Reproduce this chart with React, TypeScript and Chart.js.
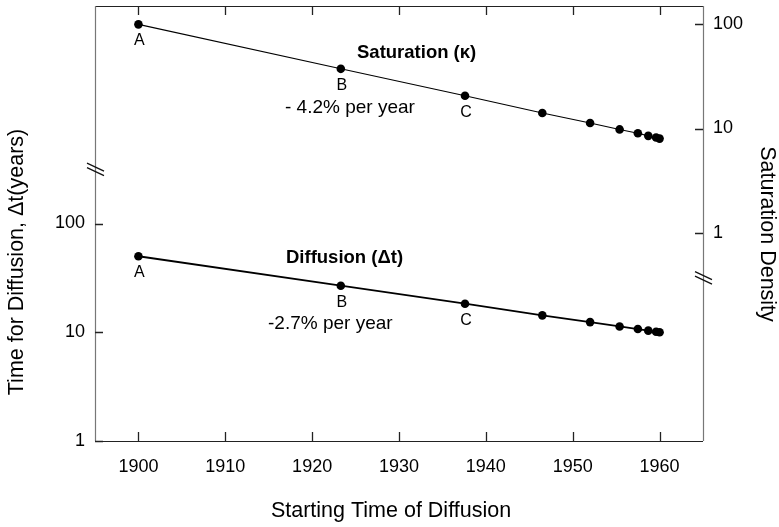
import React, { useEffect, useRef } from "react";
import { Chart, registerables } from "chart.js";
Chart.register(...registerables);

const years = [1900, 1923.3, 1937.6, 1946.5, 1952.0, 1955.4, 1957.5, 1958.7, 1959.6, 1960.0];
const saturation = [100, 37.4, 20.6, 14.1, 11.3, 9.8, 9.0, 8.5, 8.2, 8.0];
const diffusion = [50, 26.8, 18.3, 14.3, 12.4, 11.3, 10.7, 10.35, 10.1, 10.0];
const pointLabels = ["A", "B", "C"];
const xTicks = [1900, 1910, 1920, 1930, 1940, 1950, 1960];
const leftTicks = [1, 10, 100];
const rightTicks = [1, 10, 100];

const F = '"Liberation Sans", Arial, Helvetica, sans-serif';

const overlay = {
  id: "overlay",
  afterDraw(chart: any) {
    const { ctx, chartArea: a, scales } = chart;
    const x = scales.x, yL = scales.yL, yR = scales.yR;
    ctx.save();
    // frame
    ctx.lineWidth = 1.2;
    ctx.strokeStyle = "#222";
    ctx.beginPath();
    ctx.moveTo(a.left, a.top + 0.5); ctx.lineTo(a.right, a.top + 0.5);
    ctx.moveTo(a.left, a.bottom + 0.5); ctx.lineTo(a.right, a.bottom + 0.5);
    ctx.stroke();
    ctx.strokeStyle = "#777";
    ctx.beginPath();
    ctx.moveTo(a.left + 0.5, a.top); ctx.lineTo(a.left + 0.5, a.bottom);
    ctx.moveTo(a.right + 0.5, a.top); ctx.lineTo(a.right + 0.5, a.bottom);
    ctx.stroke();
    // ticks
    ctx.lineWidth = 1.3;
    ctx.strokeStyle = "#222";
    ctx.beginPath();
    for (const v of xTicks) {
      const px = Math.round(x.getPixelForValue(v)) + 0.5;
      ctx.moveTo(px, a.bottom); ctx.lineTo(px, a.bottom - 9);
      ctx.moveTo(px, a.top); ctx.lineTo(px, a.top + 9);
    }
    for (const v of leftTicks) {
      const py = Math.round(yL.getPixelForValue(v)) + 0.5;
      ctx.moveTo(a.left, py); ctx.lineTo(a.left + 8, py);
    }
    for (const v of rightTicks) {
      const py = Math.round(yR.getPixelForValue(v)) + 0.5;
      ctx.moveTo(a.right, py); ctx.lineTo(a.right - 8, py);
    }
    ctx.stroke();
    // axis breaks
    const brk = (cx: number, cy: number) => {
      ctx.strokeStyle = "#111";
      ctx.lineWidth = 1.3;
      ctx.beginPath();
      ctx.moveTo(cx - 8, cy - 6); ctx.lineTo(cx + 9, cy + 2);
      ctx.moveTo(cx - 8, cy - 1.5); ctx.lineTo(cx + 9, cy + 6.5);
      ctx.stroke();
    };
    brk(a.left, yL.getPixelForValue(316));
    brk(a.right, yR.getPixelForValue(0.37));
    // point labels
    ctx.fillStyle = "#000";
    ctx.font = `16px ${F}`;
    ctx.textAlign = "center";
    ctx.textBaseline = "middle";
    pointLabels.forEach((lab, i) => {
      const px = x.getPixelForValue(years[i]);
      ctx.fillText(lab, px + 1, yR.getPixelForValue(saturation[i]) + 16.5);
      ctx.fillText(lab, px + 1, yL.getPixelForValue(diffusion[i]) + 16.5);
    });
    // annotations
    ctx.textAlign = "left";
    ctx.font = `bold 18.5px ${F}`;
    ctx.fillText("Saturation (\u03ba)", 357, 53);
    ctx.fillText("Diffusion (\u0394t)", 286, 258);
    ctx.font = `19px ${F}`;
    ctx.fillText("- 4.2% per year", 285, 108);
    ctx.fillText("-2.7% per year", 268, 324);
    // axis titles
    ctx.font = `21.5px ${F}`;
    ctx.textAlign = "center";
    ctx.fillText("Starting Time of Diffusion", 391, 511);
    ctx.save();
    ctx.translate(17, 262);
    ctx.rotate(-Math.PI / 2);
    ctx.fillText("Time for Diffusion, \u0394t(years)", 0, 0);
    ctx.restore();
    ctx.save();
    ctx.translate(767, 234);
    ctx.rotate(Math.PI / 2);
    ctx.fillText("Saturation Density", 0, 0);
    ctx.restore();
    ctx.restore();
  },
};

export default function App() {
  const ref = useRef<HTMLCanvasElement | null>(null);
  useEffect(() => {
    document.body.style.margin = "0";
    const canvas = ref.current!;
    const tickFont = { family: F, size: 18 };
    const chart = new Chart(canvas, {
      type: "scatter",
      data: {
        datasets: [
          {
            label: "Saturation",
            data: years.map((yr, i) => ({ x: yr, y: saturation[i] })),
            yAxisID: "yR",
            showLine: true,
            borderColor: "#000",
            borderWidth: 1.1,
            backgroundColor: "#000",
            pointRadius: 4.3,
            pointBorderWidth: 0,
          },
          {
            label: "Diffusion",
            data: years.map((yr, i) => ({ x: yr, y: diffusion[i] })),
            yAxisID: "yL",
            showLine: true,
            borderColor: "#000",
            borderWidth: 1.8,
            backgroundColor: "#000",
            pointRadius: 4.3,
            pointBorderWidth: 0,
          },
        ],
      },
      options: {
        animation: false,
        responsive: false,
        events: [],
        layout: { padding: { top: 6, left: 0, right: 0, bottom: 0 } },
        plugins: { legend: { display: false }, tooltip: { enabled: false } },
        scales: {
          x: {
            type: "linear",
            position: "bottom",
            min: 1895,
            max: 1965,
            grid: { display: false, drawTicks: false },
            border: { display: false },
            afterBuildTicks: (s: any) => { s.ticks = xTicks.map((v) => ({ value: v })); },
            afterFit: (s: any) => { s.height = 86; s.paddingLeft = 0; s.paddingRight = 0; },
            ticks: { font: tickFont, color: "#000", padding: 15, maxRotation: 0, autoSkip: false, callback: (v: any) => String(v) },
          },
          yL: {
            type: "logarithmic",
            position: "left",
            min: 1,
            max: 10000,
            grid: { display: false, drawTicks: false },
            border: { display: false },
            afterBuildTicks: (s: any) => { s.ticks = leftTicks.map((v) => ({ value: v })); },
            afterFit: (s: any) => { s.width = 95; s.paddingTop = 0; s.paddingBottom = 0; },
            ticks: { font: tickFont, color: "#000", padding: 10, autoSkip: false, callback: (v: any) => String(v) },
          },
          yR: {
            type: "logarithmic",
            position: "right",
            min: 0.01,
            max: 150,
            grid: { display: false, drawTicks: false },
            border: { display: false },
            afterBuildTicks: (s: any) => { s.ticks = rightTicks.map((v) => ({ value: v })); },
            afterFit: (s: any) => { s.width = 76; s.paddingTop = 0; s.paddingBottom = 0; },
            ticks: { font: tickFont, color: "#000", padding: 10, autoSkip: false, callback: (v: any) => String(v) },
          },
        },
      } as any,
      plugins: [overlay],
    });
    return () => chart.destroy();
  }, []);
  return (
    <div style={{ position: "absolute", left: 0, top: 0, width: 779, height: 527 }}>
      <canvas ref={ref} width={779} height={527} style={{ display: "block" }} />
    </div>
  );
}
